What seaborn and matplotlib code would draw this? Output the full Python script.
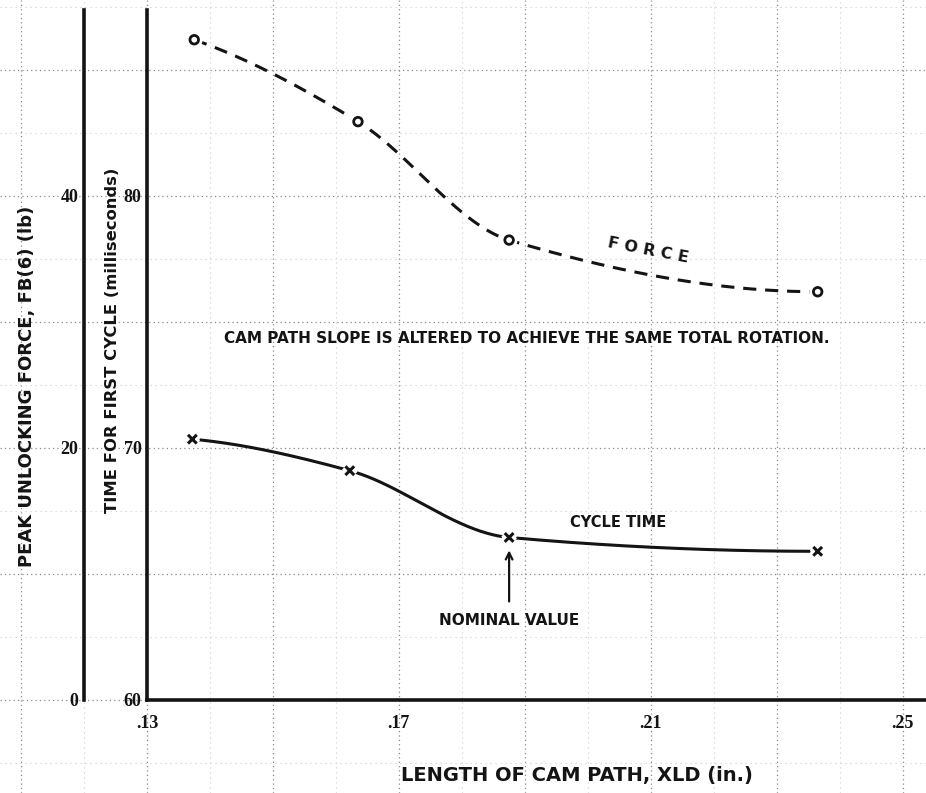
import numpy as np
import pandas as pd
import matplotlib.pyplot as plt
import matplotlib.patheffects as pe
import seaborn as sns

# values
cam_length_force = [0.1375, 0.1635, 0.1875, 0.2365]
peak_force_lb = [52.4, 45.9, 36.5, 32.4]
cam_length_cycle = [0.1372, 0.1622, 0.1875, 0.2365]
cycle_time_ms = [70.35, 69.1, 66.45, 65.9]
nominal_length = 0.1875

x_ticks = [0.13, 0.17, 0.21, 0.25]
x_tick_labels = ['.13', '.17', '.21', '.25']
time_ticks = [60, 70, 80]
force_ticks = [0, 20, 40]

sns.set_theme(style="white")
plt.rcParams['font.family'] = ['DejaVu Sans']
INK = '#141414'
TICK_FONT = dict(family='Liberation Serif', weight='bold', size=13, color=INK)
LABEL_FONT = dict(family='DejaVu Sans', weight='bold', color=INK)


def pchip(x, y, xs):
    # monotone cubic through the read points, only used to draw the curve
    x = np.asarray(x, float)
    y = np.asarray(y, float)
    h = np.diff(x)
    d = np.diff(y) / h
    m = np.zeros_like(y)
    for k in range(1, len(x) - 1):
        if d[k - 1] * d[k] > 0:
            w1 = 2 * h[k] + h[k - 1]
            w2 = h[k] + 2 * h[k - 1]
            m[k] = (w1 + w2) / (w1 / d[k - 1] + w2 / d[k])
    m[0] = ((2 * h[0] + h[1]) * d[0] - h[0] * d[1]) / (h[0] + h[1])
    if np.sign(m[0]) != np.sign(d[0]):
        m[0] = 0
    m[-1] = ((2 * h[-1] + h[-2]) * d[-1] - h[-1] * d[-2]) / (h[-1] + h[-2])
    if np.sign(m[-1]) != np.sign(d[-1]):
        m[-1] = 0
    idx = np.clip(np.searchsorted(x, xs) - 1, 0, len(x) - 2)
    t = (xs - x[idx]) / h[idx]
    h00 = 2 * t**3 - 3 * t**2 + 1
    h10 = t**3 - 2 * t**2 + t
    h01 = -2 * t**3 + 3 * t**2
    h11 = t**3 - t**2
    return (h00 * y[idx] + h10 * h[idx] * m[idx]
            + h01 * y[idx + 1] + h11 * h[idx] * m[idx + 1])


xs_f = np.linspace(cam_length_force[0], cam_length_force[-1], 300)
force_curve = pd.DataFrame({'x': xs_f, 'y': pchip(cam_length_force, peak_force_lb, xs_f)})
xs_c = np.linspace(cam_length_cycle[0], cam_length_cycle[-1], 300)
cycle_curve = pd.DataFrame({'x': xs_c, 'y': pchip(cam_length_cycle, cycle_time_ms, xs_c)})
force_pts = pd.DataFrame({'x': cam_length_force, 'y': peak_force_lb})
cycle_pts = pd.DataFrame({'x': cam_length_cycle, 'y': cycle_time_ms})

fig = plt.figure(figsize=(9.26, 7.93), dpi=100)
fig.patch.set_facecolor('white')

L, B, W, H = 147 / 926, 93 / 793, 779 / 926, 690 / 793
xlim = (0.13, 0.2537)
tlim = (60, 87.38)
flim = (0, 54.76)

# graph paper behind everything, on the same scale as the plot
bg = fig.add_axes([0, 0, 1, 1], zorder=0)
xr = (xlim[1] - xlim[0]) / W
yr = (tlim[1] - tlim[0]) / H
bx0 = xlim[0] - L * xr
by0 = tlim[0] - B * yr
bg.set_xticks(np.arange(0.05, 0.27, 0.02))
bg.set_xticks(np.arange(0.06, 0.27, 0.02), minor=True)
bg.set_yticks(np.arange(55, 90, 5))
bg.set_yticks(np.arange(57.5, 90, 5), minor=True)
bg.set_xlim(bx0, bx0 + xr)
bg.set_ylim(by0, by0 + yr)
bg.grid(True, which='major', color='#8a8a8a', ls=(0, (1, 2.5)), lw=0.9)
bg.grid(True, which='minor', color='#cccccc', ls=(0, (1, 3.5)), lw=0.8)
bg.tick_params(which='both', length=0, labelbottom=False, labelleft=False)
for s in bg.spines.values():
    s.set_visible(False)

ax = fig.add_axes([L, B, W, H], zorder=2)
ax.set_facecolor('none')
ax2 = ax.twinx()
ax2.set_facecolor('none')

# cycle time on the inner axis
sns.lineplot(data=cycle_curve, x='x', y='y', ax=ax, color=INK, lw=2.2,
             sort=False, zorder=2)
sns.scatterplot(data=cycle_pts, x='x', y='y', ax=ax, marker='x', s=40,
                color=INK, linewidth=2.2, zorder=3,
                path_effects=[pe.Stroke(linewidth=7, foreground='white'), pe.Normal()])

# force on the outer axis
sns.lineplot(data=force_curve, x='x', y='y', ax=ax2, color=INK, lw=2.2,
             sort=False, linestyle=(0, (4.3, 2.9)), zorder=2)
sns.scatterplot(data=force_pts, x='x', y='y', ax=ax2, marker='o', s=38,
                facecolor='white', edgecolor=INK, linewidth=2.0, zorder=3,
                path_effects=[pe.Stroke(linewidth=6, foreground='white'), pe.Normal()])

for s in ['top', 'right']:
    ax.spines[s].set_visible(False)
for s in ['top', 'right', 'bottom']:
    ax2.spines[s].set_visible(False)
ax.spines['left'].set_linewidth(2.6)
ax.spines['bottom'].set_linewidth(2.6)
ax.spines['left'].set_color(INK)
ax.spines['bottom'].set_color(INK)
ax2.spines['left'].set_visible(True)
ax2.spines['left'].set_linewidth(2.6)
ax2.spines['left'].set_color(INK)
ax2.spines['left'].set_position(('outward', 63 * 0.72))
ax2.yaxis.tick_left()
ax2.yaxis.set_label_position('left')

ax.set_xticks(x_ticks)
ax.set_xticklabels(x_tick_labels, fontdict=TICK_FONT)
ax.set_yticks(time_ticks)
ax.set_yticklabels([str(v) for v in time_ticks], fontdict=TICK_FONT)
ax2.set_yticks(force_ticks)
ax2.set_yticklabels([str(v) for v in force_ticks], fontdict=TICK_FONT)
ax.tick_params(axis='x', length=0, pad=11)
ax.tick_params(axis='y', length=0, pad=4)
ax2.tick_params(axis='y', length=0, pad=4)

ax.set_xlim(*xlim)
ax.set_ylim(*tlim)
ax2.set_ylim(*flim)

ax.set_xlabel('LENGTH OF CAM PATH, XLD (in.)', fontsize=14, **LABEL_FONT)
ax.xaxis.set_label_coords(0.552, -0.095)
ax.set_ylabel('TIME FOR FIRST CYCLE (milliseconds)', fontsize=11.8, **LABEL_FONT)
ax.yaxis.set_label_coords(-0.035, 0.522)
ax2.set_ylabel('PEAK UNLOCKING FORCE, FB(6) (lb)', fontsize=13, **LABEL_FONT)
ax2.yaxis.set_label_coords(-0.143, 0.455)

ax.text(0.1903, 74.33, 'CAM PATH SLOPE IS ALTERED TO ACHIEVE THE SAME TOTAL ROTATION.',
        ha='center', va='center', fontsize=11, **LABEL_FONT)
ax.text(0.2095, 77.86, 'F O R C E', ha='center', va='center', rotation=-11,
        fontsize=11.5, **LABEL_FONT)
ax.text(0.2048, 67.06, 'CYCLE TIME', ha='center', va='center', fontsize=10.5, **LABEL_FONT)
ax.text(nominal_length, 63.17, 'NOMINAL VALUE', ha='center', va='center',
        fontsize=11, **LABEL_FONT)
ax.annotate('', xy=(nominal_length, cycle_time_ms[2] - 0.4),
            xytext=(nominal_length, 63.8),
            arrowprops=dict(arrowstyle='->', color=INK, lw=1.6))

fig.savefig('out.png', dpi=100, facecolor='white')
